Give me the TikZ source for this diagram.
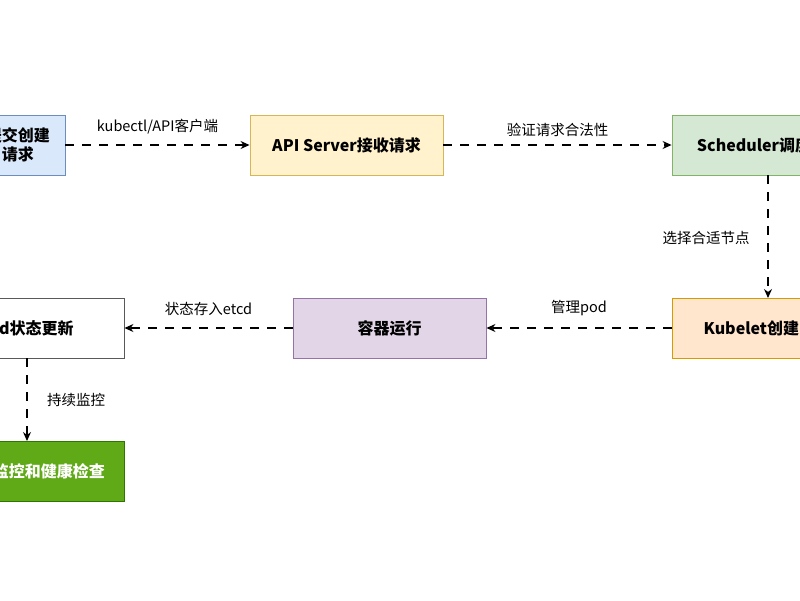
\documentclass[tikz,border=0pt]{standalone}
\usepackage{fontspec}
\setmainfont{Noto Sans CJK SC}
\usetikzlibrary{arrows.meta}
\definecolor{bF}{HTML}{DAE8FC}\definecolor{bD}{HTML}{6C8EBF}
\definecolor{yF}{HTML}{FFF2CC}\definecolor{yD}{HTML}{D6B656}
\definecolor{gF}{HTML}{D5E8D4}\definecolor{gD}{HTML}{82B366}
\definecolor{oF}{HTML}{FFE6CC}\definecolor{oD}{HTML}{D79B00}
\definecolor{pF}{HTML}{E1D5E7}\definecolor{pD}{HTML}{9673A6}
\definecolor{dF}{HTML}{60A917}\definecolor{dD}{HTML}{2D7600}
\begin{document}
\begin{tikzpicture}[x=1pt,y=-1pt,
 box/.style={draw,line width=0.9pt,minimum height=60pt,inner sep=0pt,align=center,font=\fontsize{16}{19}\selectfont\bfseries},
 arr/.style={-{Stealth[length=9pt,width=8pt]},line width=1.1pt,dash pattern=on 9pt off 8pt},
 lab/.style={font=\fontsize{14.5}{17}\selectfont}]
\useasboundingbox (0,0) rectangle (800,600);
\clip (0,0) rectangle (800,600);
\node[box,fill=bF,draw=bD,minimum width=94pt] (a) at (18,145) {提交创建\\请求};
\node[box,fill=yF,draw=yD,minimum width=193pt] (b) at (346.5,145) {API Server接收请求};
\node[box,fill=gF,draw=gD,minimum width=164pt] (c) at (754,145) {Scheduler调度};
\node[box,fill=oF,draw=oD,minimum width=190pt] (d) at (767,328) {Kubelet创建Pod};
\node[box,fill=pF,draw=pD,minimum width=193pt] (e) at (389.5,328) {容器运行};
\node[box,fill=white,draw=black!65,minimum width=196pt] (f) at (26,328) {Pod状态更新};
\node[box,fill=dF,draw=dD,text=white,minimum width=150pt] (g) at (49,471) {监控和健康检查};
\draw[arr] (a) -- node[lab,above=7pt]{kubectl/API客户端} (b);
\draw[arr] (b) -- node[lab,above=4pt]{验证请求合法性} (c);
\draw[arr] (768,175) coordinate (c1) -- (768,298) coordinate (d1);
\node[lab] (l3) at (706,238) {选择合适节点};
\draw[arr] (d) -- node[lab,above=8pt]{管理pod} (e);
\draw[arr] (e) -- node[lab,above=8pt]{状态存入etcd} (f);
\draw[arr] (27,358) coordinate (f1) -- (27,441) coordinate (g1);
\node[lab] (l6) at (76,400) {持续监控};
\end{tikzpicture}
\end{document}
